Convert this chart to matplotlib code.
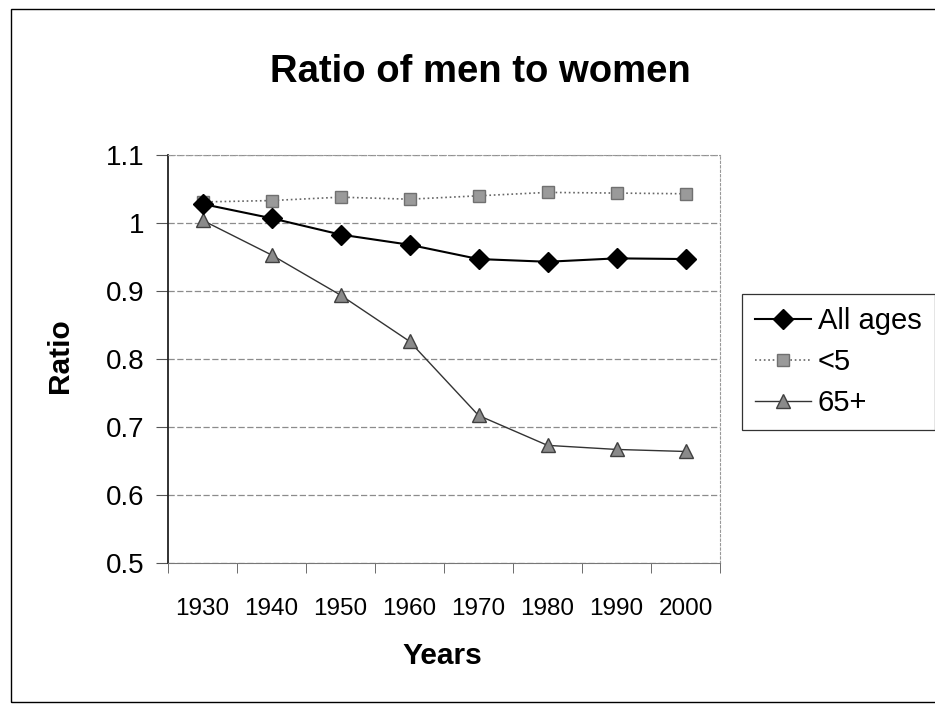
#!/usr/bin/env python3
import numpy as np
import matplotlib
matplotlib.use("Agg")
import matplotlib.pyplot as plt
from matplotlib.patches import Rectangle

years = ["1930", "1940", "1950", "1960", "1970", "1980", "1990", "2000"]
all_ages = [1.028, 1.007, 0.983, 0.968, 0.947, 0.943, 0.948, 0.947]
under5 = [1.031, 1.033, 1.038, 1.035, 1.040, 1.045, 1.044, 1.043]
over65 = [1.004, 0.953, 0.894, 0.826, 0.717, 0.673, 0.667, 0.664]
yticks = [0.5, 0.6, 0.7, 0.8, 0.9, 1.0, 1.1]
ytick_labels = ["0.5", "0.6", "0.7", "0.8", "0.9", "1", "1.1"]


def plot_ratio():
    plt.rcParams['font.family'] = ['Liberation Sans', 'DejaVu Sans']
    W, H = 935, 708
    fig = plt.figure(figsize=(W / 100, H / 100), dpi=100)
    ax = fig.add_axes([168 / W, 1 - 563 / H, (720 - 168) / W, (563 - 155) / H])

    x = np.arange(len(years))
    ax.plot(x, all_ages, '-', color='black', lw=1.5, marker='D', ms=10,
            mfc='black', mec='black', label='All ages', zorder=4)
    ax.plot(x, under5, ':', color='#666666', lw=1.2, marker='s', ms=9,
            mfc='#9a9a9a', mec='#707070', label='<5', zorder=3)
    ax.plot(x, over65, '-', color='#333333', lw=1.0, marker='^', ms=10,
            mfc='#8a8a8a', mec='#404040', label='65+', zorder=3)

    ax.set_xlim(-0.5, len(years) - 0.5)
    ax.set_ylim(0.5, 1.1)
    ax.set_yticks(yticks)
    ax.set_yticklabels(ytick_labels, fontsize=20)
    ax.set_xticks(x)
    ax.set_xticklabels(years, fontsize=17.5)
    ax.set_xticks(np.arange(len(years) + 1) - 0.5, minor=True)
    ax.tick_params(axis='x', which='major', length=0, pad=25)
    ax.tick_params(axis='x', which='minor', length=7, color='#555555')
    ax.tick_params(axis='y', length=9, pad=8, color='#555555')

    ax.yaxis.grid(True, color='#8c8c8c', lw=0.9, ls=(0, (5, 2)))
    ax.set_axisbelow(True)
    ax.spines['left'].set_color('#222222')
    ax.spines['left'].set_linewidth(1.3)
    ax.spines['bottom'].set_color('#777777')
    for s in ['top', 'right']:
        ax.spines[s].set_color('#999999')
        ax.spines[s].set_linestyle((0, (2, 2)))

    fig.text(480 / W, 1 - 72 / H, "Ratio of men to women", fontsize=27.5,
             fontweight='bold', ha='center', va='center')
    fig.text(60 / W, 1 - 356 / H, "Ratio", fontsize=21.5, fontweight='bold',
             rotation=90, ha='center', va='center')
    fig.text(442 / W, 1 - 656 / H, "Years", fontsize=21.5, fontweight='bold',
             ha='center', va='center')

    leg = ax.legend(loc='center left', bbox_to_anchor=(742 / W, 1 - 362 / H),
                    bbox_transform=fig.transFigure, fontsize=21, frameon=True,
                    fancybox=False, edgecolor='black', handlelength=1.9,
                    handletextpad=0.25, borderpad=0.45, labelspacing=0.45,
                    borderaxespad=0)
    leg.get_frame().set_linewidth(0.9)

    fig.patches.append(Rectangle((11 / W, 1 - 702 / H), (940 - 11) / W,
                                 (702 - 9) / H, transform=fig.transFigure,
                                 fill=False, edgecolor='black', lw=1.0))
    fig.savefig("out.png", dpi=100)


if __name__ == '__main__':
    plot_ratio()
